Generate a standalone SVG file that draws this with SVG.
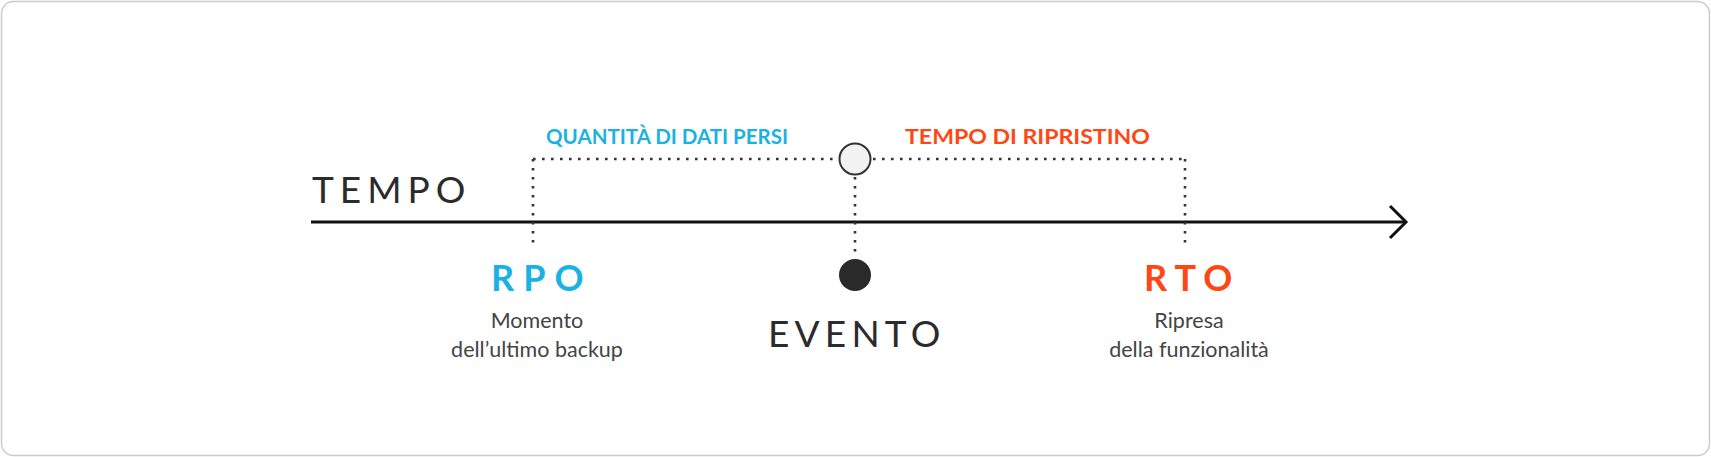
<svg xmlns="http://www.w3.org/2000/svg" width="1711" height="457" viewBox="0 0 1711 457">
  <style>
    .dot { fill: none; stroke: #333; stroke-width: 2.6; stroke-dasharray: 2.6 6.4; }
    .big { font-family: Lato, "Noto Sans", sans-serif; font-size: 37px; fill: #2b2b2b; }
    .code { font-family: Lato, "Noto Sans", sans-serif; font-size: 36px; font-weight: bold; }
    .head { font-family: Lato, "Noto Sans", sans-serif; font-size: 21px; font-weight: bold; }
    .desc { font-family: Lato, "Noto Sans", sans-serif; font-size: 21.5px; fill: #444; text-anchor: middle; }
    .blue { fill: #1ab2e3; }
    .red { fill: #ff4714; }
  </style>
  <rect x="1.5" y="1.5" width="1708" height="454" rx="12" ry="12" fill="#fff" stroke="#cccccc" stroke-width="1.5"/>

  <g id="connectors">
    <line id="axis" x1="311" y1="222" x2="1405" y2="222" stroke="#111" stroke-width="3"/>
    <polyline points="1390,206 1406,222 1390,238" fill="none" stroke="#111" stroke-width="3"/>
    <line class="dot" x1="533" y1="159" x2="838" y2="159"/>
    <line class="dot" x1="873" y1="159" x2="1188" y2="159"/>
    <line class="dot" x1="533" y1="159" x2="533" y2="246"/>
    <line class="dot" x1="1185" y1="159" x2="1185" y2="246"/>
    <line class="dot" x1="855" y1="177" x2="855" y2="255"/>
  </g>

  <g id="tempo">
    <text class="big" x="312" y="203" letter-spacing="6">TEMPO</text>
  </g>

  <g id="label-quantita">
    <text class="head blue" x="546" y="144" textLength="242" lengthAdjust="spacingAndGlyphs">QUANTITÀ DI DATI PERSI</text>
  </g>

  <g id="label-ripristino">
    <text class="head red" x="905" y="144" textLength="245" lengthAdjust="spacingAndGlyphs">TEMPO DI RIPRISTINO</text>
  </g>

  <g id="node-circle">
    <circle cx="855" cy="159" r="15.5" fill="#f2f2f2" stroke="#333" stroke-width="2"/>
  </g>

  <g id="node-evento">
    <circle cx="855" cy="275" r="16" fill="#2a2a2a"/>
    <text class="big" x="768" y="347" letter-spacing="5.2">EVENTO</text>
  </g>

  <g id="node-rpo">
    <text class="code blue" x="491" y="291" letter-spacing="9">RPO</text>
    <text class="desc" x="537" y="328">Momento</text>
    <text class="desc" x="537" y="357">dell’ultimo backup</text>
  </g>

  <g id="node-rto">
    <text class="code red" x="1144" y="291" letter-spacing="8">RTO</text>
    <text class="desc" x="1189" y="328">Ripresa</text>
    <text class="desc" x="1189" y="357">della funzionalità</text>
  </g>
</svg>
